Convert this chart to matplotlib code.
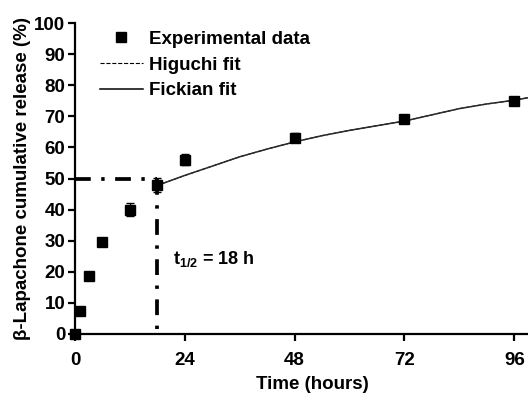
import matplotlib.pyplot as plt
from matplotlib.lines import Line2D

plt.rcParams['font.family'] = ['Liberation Sans', 'DejaVu Sans']
plt.rcParams['font.weight'] = 'bold'
plt.rcParams['mathtext.fontset'] = 'custom'
plt.rcParams['mathtext.rm'] = 'Liberation Sans:bold'
plt.rcParams['mathtext.bf'] = 'Liberation Sans:bold'
plt.rcParams['mathtext.it'] = 'Liberation Sans:bold'

# experimental release data
time_h = [0, 1, 3, 6, 12, 18, 24, 48, 72, 96]
release = [0, 7.5, 18.5, 29.5, 40, 48, 56, 63.2, 69.2, 75]
release_err = [0, 0.8, 0.8, 1.2, 2.0, 2.2, 1.8, 1.3, 1.4, 0.8]

# fit curves
fit_time = [18, 24, 30, 36, 42, 48, 54, 60, 66, 72, 78, 84, 90, 96, 99]
fit_release = [47.8, 51, 54, 57, 59.5, 61.8, 63.8, 65.5, 67, 68.5, 70.5, 72.5, 74, 75.2, 76]

half_time = 18
half_release = 50

fig = plt.figure(figsize=(5.28, 3.99), dpi=100)
ax = fig.add_axes([0.142, 0.163, 0.858, 0.779])

ax.errorbar(time_h, release, yerr=release_err, fmt='s', color='black',
            markersize=6.5, elinewidth=1.0, capsize=3, capthick=1.0,
            clip_on=False, zorder=4)
ax.plot(fit_time, fit_release, '--', color='black', lw=0.8)
ax.plot(fit_time, fit_release, '-', color='#2a2a2a', lw=1.1)

ax.plot([0, half_time], [half_release, half_release], color='black',
        lw=2.7, dashes=(4.2, 2.8, 0.9, 2.8))
ax.plot([half_time, half_time], [half_release, 0], color='black',
        lw=2.7, dashes=(4.2, 2.8, 0.9, 2.8))
ax.text(21.5, 24, r't$_{1/2}$ = 18 h', fontsize=13, fontweight='bold',
        va='center')

ax.set_xlim(0, 99)
ax.set_ylim(0, 100)
ax.set_xticks([0, 24, 48, 72, 96])
ax.set_yticks(range(0, 101, 10))
for s in ['top', 'right']:
    ax.spines[s].set_visible(False)
for s in ['left', 'bottom']:
    ax.spines[s].set_linewidth(1.6)
ax.tick_params(width=1.6, length=5, labelsize=13.5, pad=2)
ax.tick_params(axis='x', pad=8)

ax.set_xlabel('Time (hours)', fontsize=13.5, fontweight='bold')
ax.xaxis.set_label_coords(0.523, -0.135)
ax.set_ylabel('β-Lapachone cumulative release (%)', fontsize=13.5,
              fontweight='bold', labelpad=2)

handles = [
    Line2D([], [], marker='s', ls='', color='black', markersize=6.5),
    Line2D([], [], ls='--', color='black', lw=0.8),
    Line2D([], [], ls='-', color='black', lw=1.1),
]
ax.legend(handles, ['Experimental data', 'Higuchi fit', 'Fickian fit'],
          loc='upper left', bbox_to_anchor=(0.055, 0.975), frameon=False,
          borderaxespad=0, borderpad=0, handlelength=2.3,
          handletextpad=0.3, labelspacing=0.45,
          prop={'weight': 'bold', 'size': 13.5})

fig.savefig('out.png', dpi=100)
